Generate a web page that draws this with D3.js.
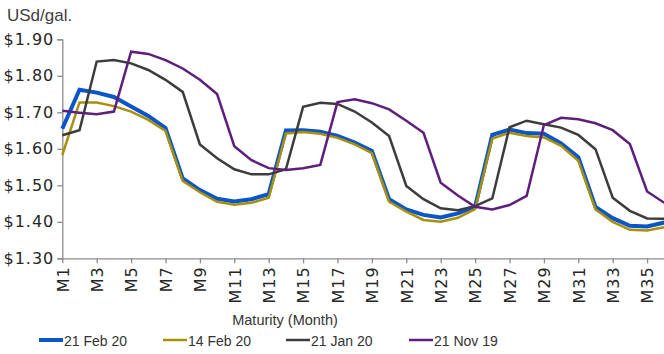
<!DOCTYPE html>
<html>
<head>
<meta charset="utf-8">
<script src="https://cdnjs.cloudflare.com/ajax/libs/d3/7.8.5/d3.min.js"></script>
<style>
  body { margin: 0; background: #fff; }
  svg { display: block; }
  .tick text { font-family: "DejaVu Sans", sans-serif; font-size: 16px; fill: #262626; letter-spacing: 1px; }
  .axis path, .axis line { stroke: #8c8c8c; stroke-width: 1.3px; }
  .lbl { font-family: "Liberation Sans", Arial, sans-serif; fill: #333; }
</style>
</head>
<body>
<div id="chart"></div>
<script>
var months = d3.range(1, 37).map(function(m) { return "M" + m; });

var feb21 = [1.655, 1.762, 1.754, 1.742, 1.716, 1.690, 1.657, 1.519, 1.487, 1.463, 1.456, 1.462, 1.476, 1.650,
             1.651, 1.647, 1.635, 1.617, 1.594, 1.462, 1.434, 1.419, 1.412, 1.423, 1.441, 1.638,
             1.653, 1.643, 1.641, 1.615, 1.577, 1.441, 1.410, 1.389, 1.387, 1.398];
var feb14 = [1.583, 1.727, 1.727, 1.717, 1.702, 1.679, 1.649, 1.512, 1.481, 1.455, 1.447, 1.452, 1.466, 1.642,
             1.646, 1.641, 1.630, 1.612, 1.588, 1.455, 1.428, 1.405, 1.400, 1.411, 1.435, 1.628,
             1.644, 1.635, 1.631, 1.608, 1.567, 1.434, 1.400, 1.378, 1.376, 1.385];
var jan21 = [1.637, 1.651, 1.839, 1.843, 1.834, 1.816, 1.789, 1.756, 1.612, 1.574, 1.544, 1.530, 1.530, 1.544,
             1.715, 1.726, 1.723, 1.702, 1.672, 1.635, 1.498, 1.462, 1.437, 1.432, 1.443, 1.464,
             1.659, 1.677, 1.667, 1.658, 1.638, 1.599, 1.466, 1.430, 1.409, 1.408];
var nov21 = [1.704, 1.699, 1.695, 1.702, 1.866, 1.860, 1.843, 1.820, 1.789, 1.750, 1.607, 1.569, 1.547, 1.542,
             1.547, 1.556, 1.728, 1.736, 1.725, 1.708, 1.677, 1.644, 1.507, 1.472, 1.441, 1.434,
             1.446, 1.471, 1.665, 1.685, 1.681, 1.670, 1.651, 1.613, 1.483, 1.452];

var seriesNames = ["21 Feb 20", "14 Feb 20", "21 Jan 20", "21 Nov 19"];
var seriesValues = [feb21, feb14, jan21, nov21];
var seriesColors = ["#0a55c8", "#a8900a", "#3c3c3c", "#5e1f7c"];
var seriesWidths = [4, 2.5, 2.5, 2.5];

var yTicks = [1.30, 1.40, 1.50, 1.60, 1.70, 1.80, 1.90];

var w = 664, h = 354;
var svg = d3.select("#chart").append("svg").attr("width", w).attr("height", h);

var x = d3.scalePoint().domain(months).range([62.3, 664.3]);
var y = d3.scaleLinear().domain([1.3, 1.9]).range([258.3, 39.3]);

svg.append("g")
   .attr("class", "axis")
   .attr("transform", "translate(62.3,0)")
   .call(d3.axisLeft(y).tickValues(yTicks).tickSize(5).tickPadding(3)
           .tickFormat(function(d) { return "$" + d3.format(".2f")(d); }));

svg.append("g")
   .attr("class", "axis")
   .attr("transform", "translate(0,258.3)")
   .call(d3.axisBottom(x).tickValues(months.filter(function(d, i) { return i % 2 === 0; }))
           .tickSize(5).tickSizeOuter(0))
   .selectAll("text")
   .attr("transform", "rotate(-90)")
   .attr("x", -8).attr("y", 0).attr("dy", "0.36em")
   .style("text-anchor", "end");

svg.selectAll(".axis .domain").attr("stroke", "#8c8c8c");

var line = d3.line()
   .x(function(d, i) { return x(months[i]); })
   .y(function(d) { return y(d); });

seriesValues.forEach(function(vals, k) {
    svg.append("path")
       .datum(vals)
       .attr("d", line)
       .attr("fill", "none")
       .attr("stroke", seriesColors[k])
       .attr("stroke-width", seriesWidths[k])
       .attr("stroke-linejoin", "miter");
});

// labels
svg.append("text").attr("class", "lbl").attr("x", 7).attr("y", 21)
   .style("font-size", "17px").style("fill", "#404040").text("USd/gal.");

svg.append("text").attr("class", "lbl").attr("x", 285).attr("y", 325)
   .attr("text-anchor", "middle").style("font-size", "14.5px").text("Maturity (Month)");

// legend
var legX = [39, 163, 286, 409];
seriesNames.forEach(function(name, k) {
    svg.append("line")
       .attr("x1", legX[k]).attr("x2", legX[k] + 24)
       .attr("y1", 340).attr("y2", 340)
       .attr("stroke", seriesColors[k])
       .attr("stroke-width", k === 0 ? 4 : 2.5);
    svg.append("text").attr("class", "lbl")
       .attr("x", legX[k] + 25).attr("y", 345.5)
       .style("font-size", "14px").text(name);
});
</script>
</body>
</html>
